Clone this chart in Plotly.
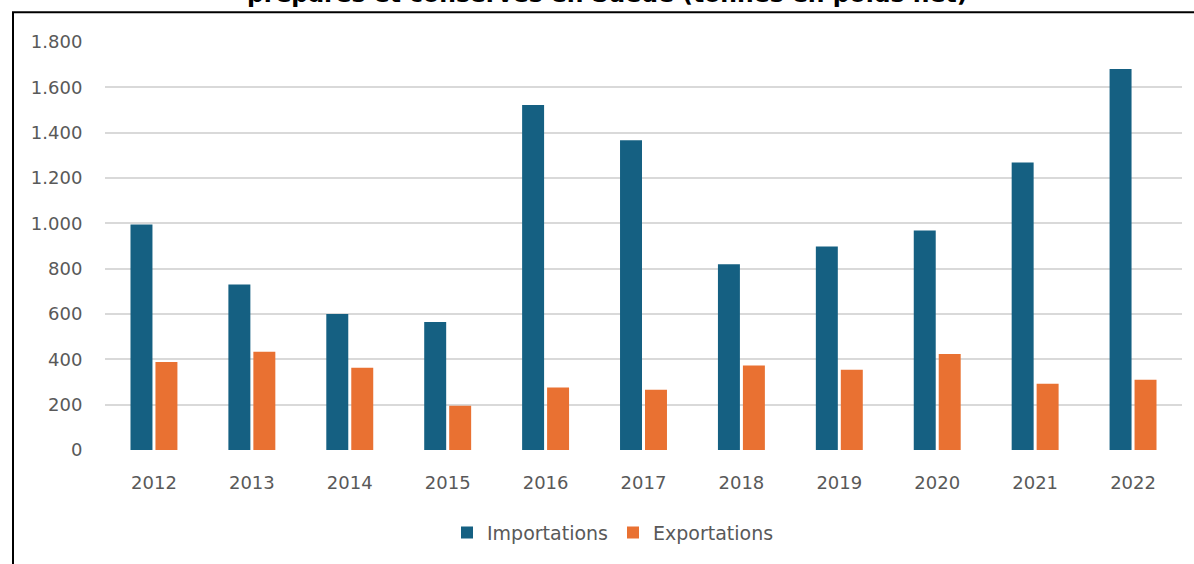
import plotly.graph_objects as go

# Annual volumes, tonnes net weight
years = ["2012", "2013", "2014", "2015", "2016", "2017", "2018", "2019", "2020", "2021", "2022"]
importations = [995, 730, 600, 565, 1522, 1366, 819, 898, 968, 1268, 1681]
exportations = [388, 433, 363, 195, 276, 266, 373, 354, 424, 292, 310]

title_text = "préparés et conservés en Suède (tonnes en poids net)"
y_ticks = [0, 200, 400, 600, 800, 1000, 1200, 1400, 1600, 1800]

BLUE = "#156082"
ORANGE = "#E97132"
GREY = "#595959"
FONT = "DejaVu Sans"

W, H = 1194, 564
ML, MR, MT, MB = 105, 12, 42, 112
PW, PH = W - ML - MR, H - MT - MB


def px_x(px):
    return (px - ML) / PW


def px_y(py):
    return (H - MB - py) / PH


fig = go.Figure()
fig.add_trace(go.Bar(x=years, y=importations, name="Importations",
                     marker=dict(color=BLUE, line=dict(width=0))))
fig.add_trace(go.Bar(x=years, y=exportations, name="Exportations",
                     marker=dict(color=ORANGE, line=dict(width=0))))

fig.update_layout(
    width=W, height=H,
    margin=dict(l=ML, r=MR, t=MT, b=MB),
    paper_bgcolor="white", plot_bgcolor="white",
    barmode="group", bargap=0.49, bargroupgap=0.12,
    separators=",.",
    font=dict(family=FONT, size=18, color=GREY),
    showlegend=True,
    legend=dict(orientation="h", x=px_x(613), xanchor="center",
                y=px_y(535), yanchor="middle",
                font=dict(family=FONT, size=19, color=GREY),
                itemwidth=30, tracegroupgap=0),
    xaxis=dict(showgrid=False, showline=False, zeroline=False,
               ticks="outside", ticklen=16, tickcolor="rgba(0,0,0,0)",
               tickfont=dict(family=FONT, size=18, color=GREY)),
    yaxis=dict(range=[0, 1800], tickvals=y_ticks, tickformat=",d",
               showgrid=True, gridcolor="#D9D9D9", gridwidth=1.5,
               zeroline=False, showline=False,
               ticks="outside", ticklen=18, tickcolor="rgba(0,0,0,0)",
               tickfont=dict(family=FONT, size=18, color=GREY)),
)

# Title, partly running off the top edge
fig.add_annotation(text=title_text, xref="paper", yref="paper",
                   x=px_x(607), y=px_y(10), xanchor="center", yanchor="bottom",
                   showarrow=False,
                   font=dict(family=FONT, size=23.5, color="black", weight="bold"))

# Frame lines along the top and left edges
fig.add_shape(type="line", xref="paper", yref="paper",
              x0=px_x(12), x1=px_x(1200), y0=px_y(12), y1=px_y(12),
              line=dict(color="black", width=2))
fig.add_shape(type="line", xref="paper", yref="paper",
              x0=px_x(13), x1=px_x(13), y0=px_y(12), y1=px_y(570),
              line=dict(color="black", width=2))

fig.write_html("out.html")
